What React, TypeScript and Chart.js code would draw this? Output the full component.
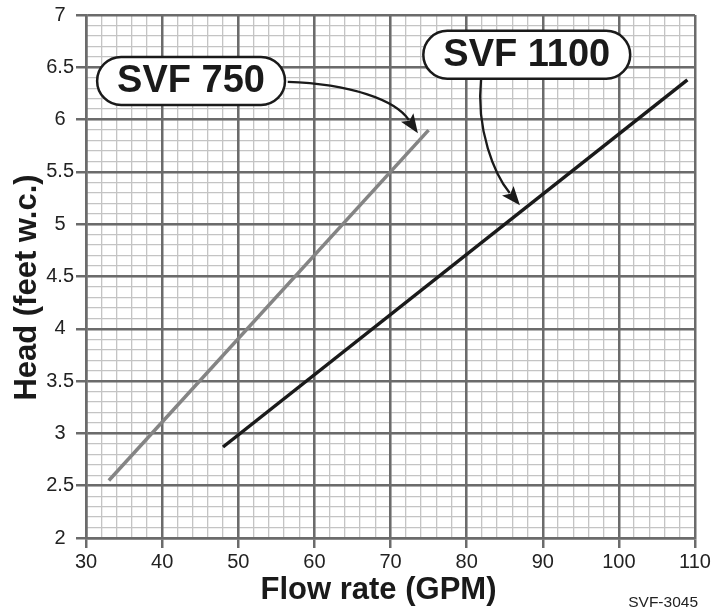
import React, { useEffect, useRef } from 'react';
import { Chart, registerables } from 'chart.js';

Chart.register(...registerables);

// ---- axis ranges / tick spacing ----
const X_MIN = 30;
const X_MAX = 110;
const X_MAJOR_STEP = 10;
const X_MINOR_STEP = 2;
const Y_MIN = 2;
const Y_MAX = 7;
const Y_MAJOR_STEP = 0.5;
const Y_MINOR_STEP = 0.1;

// ---- series data (Flow rate GPM -> Head feet w.c.) ----
const seriesNames = ['SVF 750', 'SVF 1100'];
const svf750Flow = [33, 75];
const svf750Head = [2.55, 5.9];
const svf1100Flow = [48, 109];
const svf1100Head = [2.87, 6.38];

// ---- texts ----
const xTitle = 'Flow rate (GPM)';
const yTitle = 'Head (feet w.c.)';
const figureCode = 'SVF-3045';

// ---- callouts (in data units) ----
const calloutCenters = [
  [43.8, 6.37],
  [87.9, 6.62],
];
const calloutArrows = [
  [[56.5, 6.36], [64.7, 6.34], [70.6, 6.19], [73.6, 5.87]],
  [[81.9, 6.39], [81.2, 5.9], [83.7, 5.47], [87.0, 5.18]],
];

const FONT = "'Liberation Sans', Arial, Helvetica, sans-serif";
const MAJOR = '#6b6b6b';
const MINOR = '#c4c4c4';
const INK = '#1a1a1a';

function pill(ctx: CanvasRenderingContext2D, cx: number, cy: number, w: number, h: number) {
  const r = h / 2;
  const l = cx - w / 2, rr = cx + w / 2, t = cy - h / 2, b = cy + h / 2;
  ctx.beginPath();
  ctx.moveTo(l + r, t);
  ctx.lineTo(rr - r, t);
  ctx.arc(rr - r, cy, r, -Math.PI / 2, Math.PI / 2);
  ctx.lineTo(l + r, b);
  ctx.arc(l + r, cy, r, Math.PI / 2, (3 * Math.PI) / 2);
  ctx.closePath();
}

const annotationPlugin = {
  id: 'svfAnnotations',
  afterDatasetsDraw(chart: any) {
    const ctx: CanvasRenderingContext2D = chart.ctx;
    const xs = chart.scales.x;
    const ys = chart.scales.y;
    const px = (v: number) => xs.getPixelForValue(v);
    const py = (v: number) => ys.getPixelForValue(v);
    const area = chart.chartArea;
    ctx.save();

    // arrows
    calloutArrows.forEach((pts) => {
      const p = pts.map(([a, b]) => [px(a), py(b)]);
      const [x3, y3] = p[3];
      const dx = x3 - p[2][0];
      const dy = y3 - p[2][1];
      const len = Math.hypot(dx, dy) || 1;
      const ux = dx / len, uy = dy / len;
      const headLen = 19, headHalf = 7.5;
      const bx = x3 - ux * headLen, by = y3 - uy * headLen;
      ctx.strokeStyle = INK;
      ctx.lineWidth = 2.3;
      ctx.beginPath();
      ctx.moveTo(p[0][0], p[0][1]);
      ctx.bezierCurveTo(p[1][0], p[1][1], p[2][0], p[2][1], bx + ux * 3, by + uy * 3);
      ctx.stroke();
      ctx.fillStyle = INK;
      ctx.beginPath();
      ctx.moveTo(x3, y3);
      ctx.lineTo(bx - uy * headHalf, by + ux * headHalf);
      ctx.lineTo(bx + ux * 4, by + uy * 4);
      ctx.lineTo(bx + uy * headHalf, by - ux * headHalf);
      ctx.closePath();
      ctx.fill();
    });

    // pills
    ctx.font = `bold 38px ${FONT}`;
    calloutCenters.forEach(([a, b], i) => {
      const cx = px(a), cy = py(b);
      const tw = ctx.measureText(seriesNames[i]).width;
      const w = tw + 40, h = 48;
      pill(ctx, cx, cy, w, h);
      ctx.fillStyle = '#ffffff';
      ctx.fill();
      ctx.lineWidth = 2.5;
      ctx.strokeStyle = INK;
      ctx.stroke();
      ctx.fillStyle = INK;
      ctx.textAlign = 'center';
      ctx.textBaseline = 'middle';
      ctx.fillText(seriesNames[i], cx, cy + 1);
    });

    // axis titles
    ctx.fillStyle = INK;
    ctx.font = `bold 31px ${FONT}`;
    ctx.textAlign = 'center';
    ctx.textBaseline = 'middle';
    ctx.fillText(xTitle, (area.left + area.right) / 2 - 12, chart.height - 22);
    ctx.save();
    ctx.translate(27, (area.top + area.bottom) / 2 + 11);
    ctx.rotate(-Math.PI / 2);
    ctx.fillText(yTitle, 0, 0);
    ctx.restore();

    // figure code
    ctx.font = `15.5px ${FONT}`;
    ctx.fillStyle = '#222222';
    ctx.textAlign = 'right';
    ctx.fillText(figureCode, area.right + 3, chart.height - 9);
    ctx.restore();
  },
};

export default function App() {
  const ref = useRef<HTMLCanvasElement>(null);
  useEffect(() => {
    const tickFont = { family: FONT, size: 20 };
    const chart = new Chart(ref.current!, {
      type: 'line',
      data: {
        datasets: [
          {
            label: seriesNames[0],
            data: svf750Flow.map((x, i) => ({ x, y: svf750Head[i] })),
            borderColor: '#848484',
            borderWidth: 3.5,
            pointRadius: 0,
            fill: false,
          },
          {
            label: seriesNames[1],
            data: svf1100Flow.map((x, i) => ({ x, y: svf1100Head[i] })),
            borderColor: INK,
            borderWidth: 3.5,
            pointRadius: 0,
            fill: false,
          },
        ],
      },
      options: {
        responsive: false,
        animation: false,
        devicePixelRatio: 1,
        layout: { padding: { top: 15, right: 30, left: 0, bottom: 0 } },
        plugins: { legend: { display: false }, tooltip: { enabled: false }, title: { display: false } },
        scales: {
          xm: {
            type: 'linear',
            position: 'bottom',
            min: X_MIN,
            max: X_MAX,
            ticks: { display: false, stepSize: X_MINOR_STEP, autoSkip: false },
            grid: { color: MINOR, lineWidth: 1.3, drawTicks: false, z: -2 },
            border: { display: false },
            afterFit: (s: any) => { s.height = 0; },
          },
          ym: {
            type: 'linear',
            position: 'left',
            min: Y_MIN,
            max: Y_MAX,
            ticks: { display: false, stepSize: Y_MINOR_STEP, autoSkip: false },
            grid: { color: MINOR, lineWidth: 1.3, drawTicks: false, z: -2 },
            border: { display: false },
            afterFit: (s: any) => { s.width = 0; },
          },
          x: {
            type: 'linear',
            position: 'bottom',
            min: X_MIN,
            max: X_MAX,
            ticks: {
              stepSize: X_MAJOR_STEP,
              autoSkip: false,
              maxRotation: 0,
              minRotation: 0,
              padding: 2,
              color: '#222222',
              font: tickFont,
              callback: (v: any) => String(v),
            },
            grid: { color: MAJOR, lineWidth: 2.5, tickLength: 10, tickColor: MAJOR, tickWidth: 2.5, z: -1 },
            border: { display: true, color: MAJOR, width: 2.5 },
            afterFit: (s: any) => { s.height = 74; },
          },
          y: {
            type: 'linear',
            position: 'left',
            min: Y_MIN,
            max: Y_MAX,
            ticks: {
              stepSize: Y_MAJOR_STEP,
              autoSkip: false,
              crossAlign: 'center',
              padding: 2,
              color: '#222222',
              font: tickFont,
              callback: (v: any) => String(v),
            },
            grid: { color: MAJOR, lineWidth: 2.5, tickLength: 10, tickColor: MAJOR, tickWidth: 2.5, z: -1 },
            border: { display: true, color: MAJOR, width: 2.5 },
            afterFit: (s: any) => { s.width = 86; },
          },
        },
      } as any,
      plugins: [annotationPlugin],
    });
    return () => chart.destroy();
  }, []);
  return (
    <div style={{ position: 'absolute', left: 0, top: 0, width: 725, height: 612, background: '#fff' }}>
      <canvas ref={ref} width={725} height={612} style={{ display: 'block' }} />
    </div>
  );
}
